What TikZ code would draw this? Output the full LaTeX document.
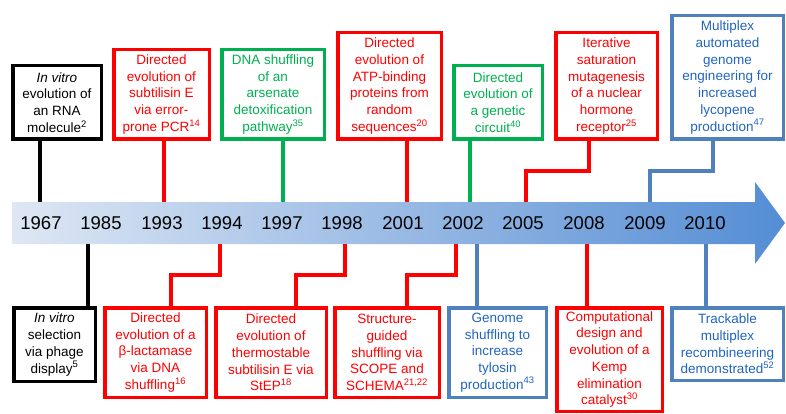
\documentclass[tikz,border=0pt]{standalone}
\usepackage{fontspec}
\setmainfont{Liberation Sans}
\definecolor{evred}{RGB}{255,0,0}
\definecolor{evgreen}{RGB}{0,176,80}
\definecolor{evblue}{RGB}{79,129,189}
\definecolor{evbluetext}{RGB}{32,100,190}
\definecolor{bandleft}{RGB}{222,231,244}
\definecolor{bandright}{RGB}{84,141,212}

\begin{document}
\begin{tikzpicture}[x=1pt, y=-1pt,
	event/.style={draw=#1, text=#1, line width=3.5pt, inner sep=0pt, align=center,
		font=\fontsize{13.5}{16.7}\selectfont},
	yearlabel/.style={inner sep=0pt, font=\fontsize{18.5}{20}\selectfont},
	stem/.style={draw=#1, line width=3.5pt}]
	%%%%% START %%%%%
	
	\useasboundingbox (0,0) rectangle (786,414);
	
	% the time arrow
	\shade[left color=bandleft, right color=bandright] (12,202) -- (755,202) -- (755,182) -- (785,223) -- (755,264) -- (755,244) -- (12,244) -- cycle;
	\node[minimum width=743pt, minimum height=42pt, inner sep=0pt, anchor=west] (band) at (12,223) {};
	
	\node[yearlabel] (y1967) at (41,223) {1967};
	\node[yearlabel] (y1985) at (101,223) {1985};
	\node[yearlabel] (y1993) at (162,223) {1993};
	\node[yearlabel] (y1994) at (222,223) {1994};
	\node[yearlabel] (y1997) at (282,223) {1997};
	\node[yearlabel] (y1998) at (342,223) {1998};
	\node[yearlabel] (y2001) at (403,223) {2001};
	\node[yearlabel] (y2002) at (463,223) {2002};
	\node[yearlabel] (y2005) at (523,223) {2005};
	\node[yearlabel] (y2008) at (584,223) {2008};
	\node[yearlabel] (y2009) at (645,223) {2009};
	\node[yearlabel] (y2010) at (705,223) {2010};
	
	% events above the arrow
	\node[event=black, minimum width=88.5pt, minimum height=73.5pt] (rna) at (57,102.5) {\textit{In vitro}\\evolution of\\an RNA\\molecule\textsuperscript{2}};
	\node[event=evred, minimum width=95.5pt, minimum height=89.5pt] (pcr) at (161.5,94.5) {Directed\\evolution of\\subtilisin E\\via error-\\prone PCR\textsuperscript{14}};
	\node[event=evgreen, minimum width=102.5pt, minimum height=89.5pt] (arsenate) at (273,94.5) {DNA shuffling\\of an\\arsenate\\detoxification\\pathway\textsuperscript{35}};
	\node[event=evred, minimum width=103.5pt, minimum height=106.5pt] (atp) at (389.5,86) {Directed\\evolution of\\ATP-binding\\proteins from\\random\\sequences\textsuperscript{20}};
	\node[event=evgreen, minimum width=88.5pt, minimum height=73.5pt] (circuit) at (498,102.5) {Directed\\evolution of\\a genetic\\circuit\textsuperscript{40}};
	\node[event=evred, minimum width=101.5pt, minimum height=106.5pt] (hormone) at (606.5,86) {Iterative\\saturation\\mutagenesis\\of a nuclear\\hormone\\receptor\textsuperscript{25}};
	\node[event=evblue, text=evbluetext, minimum width=111.5pt, minimum height=123.5pt] (lycopene) at (727.5,77.5) {Multiplex\\automated\\genome\\engineering for\\increased\\lycopene\\production\textsuperscript{47}};
	
	% events below the arrow
	\node[event=black, minimum width=81.5pt, minimum height=73.5pt] (phage) at (54.5,344.5) {\textit{In vitro}\\selection\\via phage\\display\textsuperscript{5}};
	\node[event=evred, minimum width=101.5pt, minimum height=89.5pt] (lactamase) at (155.5,352.5) {Directed\\evolution of a\\β-lactamase\\via DNA\\shuffling\textsuperscript{16}};
	\node[event=evred, minimum width=110.5pt, minimum height=89.5pt] (step) at (271,352.5) {Directed\\evolution of\\thermostable\\subtilisin E via\\StEP\textsuperscript{18}};
	\node[event=evred, minimum width=104.5pt, minimum height=89.5pt] (schema) at (387,352.5) {Structure-\\guided\\shuffling via\\SCOPE and\\SCHEMA\textsuperscript{21,22}};
	\node[event=evblue, text=evbluetext, minimum width=97.5pt, minimum height=89.5pt] (tylosin) at (497.5,352.5) {Genome\\shuffling to\\increase\\tylosin\\production\textsuperscript{43}};
	\node[event=evred, minimum width=105.5pt, minimum height=103.5pt] (kemp) at (609.5,359.5) {Computational\\design and\\evolution of a\\Kemp\\elimination\\catalyst\textsuperscript{30}};
	\node[event=evblue, text=evbluetext, minimum width=111.5pt, minimum height=72.5pt] (recomb) at (727.5,344) {Trackable\\multiplex\\recombineering\\demonstrated\textsuperscript{52}};
	
	% stems to the arrow
	\draw[stem=black] (rna.south -| 40,0) -- (40,0 |- band.north);
	\draw[stem=evred] (pcr.south -| 164,0) -- (164,0 |- band.north);
	\draw[stem=evgreen] (arsenate.south -| 283,0) -- (283,0 |- band.north);
	\draw[stem=evred] (atp.south -| 407,0) -- (407,0 |- band.north);
	\draw[stem=evgreen] (circuit.south -| 470,0) -- (470,0 |- band.north);
	\draw[stem=evred] (hormone.south -| 589,0) |- (526,171) -- (526,0 |- band.north);
	\draw[stem=evblue] (lycopene.south -| 713,0) |- (650,171) -- (650,0 |- band.north);
	
	\draw[stem=black] (88,0 |- band.south) -- (phage.north -| 88,0);
	\draw[stem=evred] (220,0 |- band.south) |- (171,275) -- (lactamase.north -| 171,0);
	\draw[stem=evred] (345,0 |- band.south) |- (296,275) -- (step.north -| 296,0);
	\draw[stem=evred] (456,0 |- band.south) |- (407,275) -- (schema.north -| 407,0);
	\draw[stem=evblue] (477,0 |- band.south) -- (tylosin.north -| 477,0);
	\draw[stem=evred] (587,0 |- band.south) -- (kemp.north -| 587,0);
	\draw[stem=evblue] (706,0 |- band.south) -- (recomb.north -| 706,0);
	
	%%%%% END %%%%%
\end{tikzpicture}
\end{document}
